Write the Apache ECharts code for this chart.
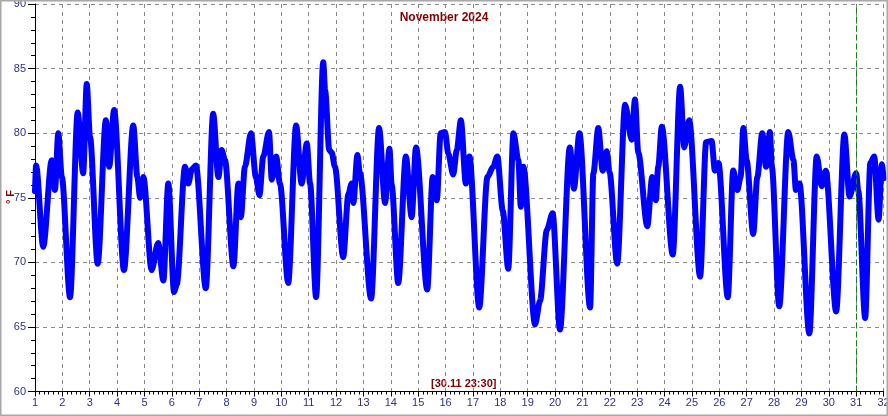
<!DOCTYPE html>
<html>
<head>
<meta charset="utf-8">
<script src="https://cdn.jsdelivr.net/npm/echarts@6/dist/echarts.min.js"></script>
<style>
html,body{margin:0;padding:0;background:#fff;}
#c{width:888px;height:416px;}
</style>
</head>
<body>
<div id="c"></div>
<script>
const chartTitle = 'November 2024';
const stampText = '[30.11 23:30]';
const yName = '° F';
const markerDay = 31;

const days = [1.00,1.04,1.30,1.61,1.73,1.85,1.98,2.28,2.56,2.76,2.89,3.01,3.29,3.59,3.71,3.89,4.25,4.59,4.74,4.84,4.96,5.26,5.50,5.69,5.87,6.08,
6.18,6.48,6.60,6.73,6.88,7.24,7.51,7.70,7.82,7.94,8.25,8.43,8.52,8.67,8.89,9.07,9.20,9.34,9.55,9.65,9.81,9.95,10.25,10.54,10.74,10.93,11.05,
11.27,11.53,11.60,11.75,11.84,11.96,12.26,12.45,12.57,12.63,12.78,12.87,13.28,13.57,13.79,13.95,14.03,14.27,14.55,14.76,14.92,15.33,15.53,15.68,15.82,15.98,16.10,
16.28,16.41,16.56,16.74,16.87,17.23,17.53,17.74,17.89,18.09,18.29,18.48,18.66,18.75,18.84,19.27,19.45,19.70,19.91,20.18,20.54,20.69,20.89,21.28,
21.40,21.58,21.74,21.89,21.99,22.27,22.56,22.80,22.92,23.04,23.37,23.55,23.68,23.77,23.90,24.30,24.57,24.72,24.90,25.30,25.52,25.72,25.84,25.97,26.31,26.51,
26.66,26.78,26.88,27.00,27.24,27.39,27.57,27.71,27.85,27.92,28.19,28.52,28.71,28.80,28.93,29.29,29.56,29.74,29.89,30.27,30.57,30.76,31.00,31.08,31.33,31.52,31.66,31.82,31.94,32.00];

const temps = [75.5,77.5,71.2,77.9,75.6,80.0,76.6,67.3,81.6,76.9,83.8,79.7,69.9,81.0,77.4,81.8,69.4,80.6,76.6,75.0,76.6,69.4,71.5,68.6,76.1,67.7,
68.3,77.4,76.1,77.2,77.5,68.0,81.5,76.6,78.7,77.9,69.7,76.1,73.5,77.4,80.0,76.6,75.2,78.2,80.1,76.4,78.2,76.1,68.4,80.6,76.1,79.2,76.1,
67.3,85.5,83.3,78.7,78.5,77.4,70.4,75.3,76.1,74.6,78.3,76.9,67.2,80.4,74.6,78.8,76.0,68.4,78.2,73.5,78.9,67.9,76.6,74.8,80.0,80.1,78.4,
76.8,78.7,81.0,76.1,78.2,66.5,76.6,77.4,78.2,74.0,69.5,80.0,77.9,74.3,77.4,65.2,67.0,72.5,73.8,64.8,78.9,75.7,80.0,66.5,
76.9,80.4,77.1,78.6,77.0,69.9,82.2,79.5,82.6,78.5,72.8,76.6,74.8,77.4,80.5,70.6,83.6,78.9,81.0,68.9,79.3,79.4,77.1,77.7,67.3,77.1,
75.6,76.6,80.4,77.9,72.2,76.6,80.0,77.4,80.1,77.4,66.6,80.1,77.9,75.6,76.1,64.5,78.2,75.9,77.1,66.2,79.9,75.1,76.9,75.5,65.7,77.7,78.2,73.3,77.6,76.5];

const seriesData = days.map((d, i) => [d, temps[i]]);

const labelColor = '#2f2f85';
const darkRed = '#800000';
const font = 'Liberation Sans, Arial, sans-serif';

const chart = echarts.init(document.getElementById('c'), null, {renderer: 'canvas'});
chart.setOption({
  animation: false,
  backgroundColor: '#ffffff',
  grid: {left: 35, right: 4.5, top: 4, bottom: 24.5, containLabel: false, outerBoundsMode: 'none'},
  xAxis: {
    type: 'value', min: 1, max: 32, interval: 1,
    axisLine: {show: true, onZero: false, lineStyle: {color: '#000', width: 1}},
    axisTick: {show: true, length: 5, lineStyle: {color: '#000'}},
    minorTick: {show: true, splitNumber: 6, length: 3, lineStyle: {color: '#000'}},
    axisLabel: {color: labelColor, fontSize: 11, fontFamily: font, margin: 6},
    splitLine: {show: true, lineStyle: {color: '#8a8a8a', type: [4, 4], width: 1}}
  },
  yAxis: {
    type: 'value', min: 60, max: 90, interval: 5,
    axisLine: {show: true, onZero: false, lineStyle: {color: '#000', width: 1}},
    axisTick: {show: true, length: 7, lineStyle: {color: '#000'}},
    minorTick: {show: true, splitNumber: 5, length: 4, lineStyle: {color: '#000'}},
    axisLabel: {color: labelColor, fontSize: 11, fontFamily: font, margin: 9},
    splitLine: {show: true, lineStyle: {color: '#8a8a8a', type: [4, 4], width: 1}}
  },
  series: [{
    type: 'line',
    data: seriesData,
    showSymbol: false,
    smooth: 0.3,
    smoothMonotone: 'x',
    lineStyle: {color: '#0000ff', width: 6, join: 'round', cap: 'round'},
    itemStyle: {color: '#0000ff'},
    z: 3,
    markLine: {
      silent: true, symbol: 'none', label: {show: false},
      lineStyle: {color: '#1b7a1b', type: [6, 3], width: 1},
      data: [{xAxis: markerDay}]
    }
  }],
  graphic: [
    {type: 'text', left: 'center', top: 12, style: {text: chartTitle, fill: darkRed, font: 'bold 12px ' + font}},
    {type: 'text', left: 431, top: 378, style: {text: stampText, fill: darkRed, font: 'bold 11px ' + font}},
    {type: 'text', x: 11, y: 197, rotation: Math.PI / 2, style: {text: yName, fill: darkRed, font: 'bold 11px ' + font, align: 'center', verticalAlign: 'middle'}},
    {type: 'rect', shape: {x: 0.5, y: 0.5, width: 887, height: 415}, style: {fill: 'none', stroke: '#a8a8a8', lineWidth: 2}, silent: true, z: 100}
  ]
});
</script>
</body>
</html>
